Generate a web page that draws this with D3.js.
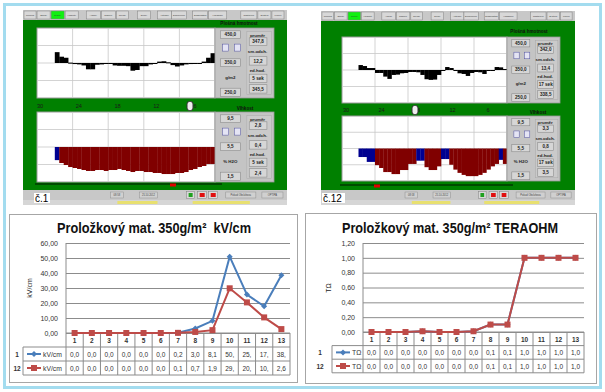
<!DOCTYPE html>
<html>
<head>
<meta charset="utf-8">
<script src="https://cdn.jsdelivr.net/npm/d3@7/dist/d3.min.js"></script>
<style>
    body { margin: 0; background: #fff; }
    svg { display: block; }
</style>
</head>
<body>
<svg id="chart" width="605" height="392"></svg>
<script>
// ---- data: lower excel charts ----
const categories = [1, 2, 3, 4, 5, 6, 7, 8, 9, 10, 11, 12, 13];
const runNames = ["1", "12"];
const kvRun1 = [0, 0, 0, 0, 0, 0, 0.2, 3.0, 8.1, 50.9, 25.6, 17.8, 38.5];
const kvRun12 = [0, 0, 0, 0, 0, 0, 0.1, 0.7, 1.9, 29.8, 20.4, 10.4, 2.6];
const kvTicks = [0, 10, 20, 30, 40, 50, 60];
const toRun1 = [0, 0, 0, 0.01, 0, 0, 0.01, 0.1, 0.1, 1, 1, 1, 1];
const toRun12 = [0, 0, 0, 0.01, 0, 0, 0.01, 0.1, 0.1, 1, 1, 1, 1];
const toTicks = [0, 0.2, 0.4, 0.6, 0.8, 1.0, 1.2];

// ---- data: machine screenshots (40 cross-direction zones) ----
const weight1 = [null, null, null, null, 381, 368, 365, 351, 347, 346, 343, 332, 332, 345, 346, 348, 350, 343, 342, 342,
    341, 328, 330, 341, 341, 346, 349, 354, 355, 352, 344, 340, 343, 346, 347, 348, 350, 354, 365, 378];
const moisture1 = [null, null, null, null, 4.0, 3.67, 3.44, 3.21, 3.1, 2.99, 2.87, 2.76, 2.76, 2.87, 2.87, 2.76, 2.87, 2.87, 2.99, 2.87,
    2.76, 2.64, 2.76, 2.76, 2.64, 2.64, 2.53, 2.53, 2.41, 2.41, 2.41, 2.53, 2.53, 2.64, 2.87, 2.99, 3.21, 3.33, 3.56, 3.56];
const weight2 = [null, null, null, null, 365, 362, 356, 356, 341, 341, 330, 323, 335, 336, 340, 341, 344, 344, 343, 335,
    322, 320, 321, 335, 347, 359, 356, 348, 340, 338, 332, 341, 344, 343, 338, 348, 350, 359, 358, 353];
const moisture2 = [null, null, null, null, 4.45, 4.45, 3.85, 3.85, 3.45, 3.1, 2.6, 2.6, 2.35, 2.35, 2.85, 2.85, 3.6, 3.6, 4.0, 4.0,
    3.2, 2.85, 2.85, 3.3, 4.2, 4.2, 3.5, 2.9, 2.5, 2.25, 2.1, 2.1, 2.1, 2.25, 2.5, 2.9, 3.3, 3.6, 4.1, 3.6];
const scaleLabels = [30, 24, 18, 12, 6];
const menuLabels = ["Přehled", "Sondy", "Příčný profil", "Hodnoty profil", "Alarmy", "Časové sekvence", "Trendy", "Druhy",
    "Aktuální role", "Dokončené role", "Diagnostika", "Hardware", "Nastavení", "Systém", "Konec"];
const weightAxis = ["450,0", "350,0", "g/m2", "250,0"];
const moistAxis = ["9,5", "5,5", "% H2O", "1,5"];
const statNames = ["průměr", "sm.odch.", "ed.hod."];
const weightStats1 = ["347,8", "12,2", "5 sek", "345,5"];
const moistStats1 = ["2,8", "0,4", "5 sek", "2,4"];
const weightStats2 = ["342,0", "13,4", "17 sek", "338,5"];
const moistStats2 = ["3,3", "0,8", "17 sek", "3,5"];

const svg = d3.select("#chart");
const FONT = "Liberation Sans, Arial, sans-serif";

// menu button edges measured on the first screenshot, re-scaled for the second one
const menuEdges = [[25, 37], [38, 51], [52, 65], [66, 79], [87, 101], [102, 116], [117, 129], [138, 151],
    [158, 172], [172, 187], [193, 208], [209, 227], [241, 257], [258, 271], [272, 284]];

const drawPanel = (g, x0, x1, y0, y1, axisTexts, stats) => {
    const w = x1 - x0, h = y1 - y0;
    const px = (f) => x0 + f * w;
    const py = (f) => y0 + f * h;
    g.append("rect").attr("x", x0).attr("y", y0).attr("width", w).attr("height", h)
        .attr("fill", "#c4c4c4").attr("stroke", "#9a9a9a").attr("stroke-width", 0.8);
    g.append("rect").attr("x", px(0.54)).attr("y", py(0.05)).attr("width", w * 0.42).attr("height", h * 0.9)
        .attr("fill", "#cacaca").attr("stroke", "#a8a8a8").attr("stroke-width", 0.5);

    const box = (fx0, fx1, fy0, fy1, label) => {
        g.append("rect").attr("x", px(fx0)).attr("y", py(fy0)).attr("width", px(fx1) - px(fx0)).attr("height", py(fy1) - py(fy0))
            .attr("fill", "#d6d6d6").attr("stroke", "#8c8c8c").attr("stroke-width", 0.6);
        g.append("text").attr("x", (px(fx0) + px(fx1)) / 2).attr("y", (py(fy0) + py(fy1)) / 2 + 1.6)
            .attr("text-anchor", "middle").attr("font-family", FONT).attr("font-weight", "bold")
            .attr("font-size", 4.6).attr("fill", "#222").text(label);
    };
    const label = (fx, fy, t) => g.append("text").attr("x", px(fx)).attr("y", py(fy) + 1.5)
        .attr("text-anchor", "middle").attr("font-family", FONT).attr("font-weight", "bold")
        .attr("font-size", 4.4).attr("fill", "#222").text(t);

    box(0.09, 0.43, 0.04, 0.15, axisTexts[0]);
    box(0.09, 0.43, 0.44, 0.55, axisTexts[1]);
    label(0.26, 0.70, axisTexts[2]);
    box(0.09, 0.43, 0.86, 0.98, axisTexts[3]);
    [0.13, 0.33].forEach((f) => {
        g.append("rect").attr("x", px(f)).attr("y", py(0.23)).attr("width", w * 0.1).attr("height", h * 0.1)
            .attr("fill", "#e4e4f4").attr("stroke", "#5050a0").attr("stroke-width", 0.5);
    });

    label(0.72, 0.10, statNames[0]);
    box(0.58, 0.88, 0.14, 0.25, stats[0]);
    label(0.72, 0.34, statNames[1]);
    box(0.58, 0.88, 0.41, 0.53, stats[1]);
    label(0.72, 0.60, statNames[2]);
    box(0.58, 0.88, 0.66, 0.78, stats[2]);
    box(0.58, 0.88, 0.81, 0.93, stats[3]);
};

const drawScreen = (L) => {
    const g = svg.append("g");

    // toolbar
    g.append("rect").attr("x", L.left).attr("y", L.top).attr("width", L.right - L.left).attr("height", 10).attr("fill", "#c8c8c8");
    const bx = d3.scaleLinear().domain([24, 287]).range([L.left, L.right]);
    menuEdges.forEach(([a, b], i) => {
        g.append("rect").attr("x", bx(a)).attr("y", L.top + 1).attr("width", bx(b) - bx(a)).attr("height", 8)
            .attr("fill", i == 2 ? "#10f010" : "#d8d8d8").attr("stroke", "#808080").attr("stroke-width", 0.5);
        g.append("text").attr("x", (bx(a) + bx(b)) / 2).attr("y", L.top + 5.8).attr("text-anchor", "middle")
            .attr("font-family", FONT).attr("font-size", 2.4).attr("fill", "#333")
            .text(menuLabels[i].split(" ")[0]);
    });

    // green background
    g.append("rect").attr("x", L.left).attr("y", L.top + 10).attr("width", L.right - L.left)
        .attr("height", L.greenB - L.top - 10).attr("fill", "#008000");

    const x = d3.scaleLinear().domain([0, 40]).range([L.plotL, L.plotR]);

    const plotFrame = (y0, y1) => {
        g.append("rect").attr("x", L.plotL).attr("y", y0).attr("width", L.plotR - L.plotL).attr("height", y1 - y0)
            .attr("fill", "#fff").attr("stroke", "#9a9a9a").attr("stroke-width", 1);
        const gx = d3.scaleLinear().domain([0, 5]).range([L.plotL, L.plotR]);
        const gy = d3.scaleLinear().domain([0, 4]).range([y0, y1]);
        d3.range(1, 5).forEach((i) => {
            g.append("line").attr("x1", gx(i)).attr("x2", gx(i)).attr("y1", y0).attr("y2", y1).attr("stroke", "#c8c8c8").attr("stroke-width", 0.8);
        });
        d3.range(1, 4).forEach((i) => {
            g.append("line").attr("x1", L.plotL).attr("x2", L.plotR).attr("y1", gy(i)).attr("y2", gy(i)).attr("stroke", "#c8c8c8").attr("stroke-width", 0.8);
        });
    };

    // upper plot: basis weight
    plotFrame(L.upT, L.upB);
    const yW = d3.scaleLinear().domain([250, 450]).range([L.upB, L.upT]);
    g.selectAll(null).data(L.weight.map((v, i) => ({ v, i })).filter((d) => d.v != null)).enter().append("rect")
        .attr("x", (d) => x(d.i)).attr("width", (d) => x(d.i + 1) - x(d.i) + 0.3)
        .attr("y", (d) => Math.min(yW(d.v), yW(350)))
        .attr("height", (d) => Math.max(1, Math.abs(yW(d.v) - yW(350))))
        .attr("fill", "#000");
    drawPanel(g, L.plotR, L.panelR, L.upT, L.upB, weightAxis, L.weightStats);
    g.append("text").attr("x", L.title1X).attr("y", L.title1Y).attr("text-anchor", "middle").attr("font-family", FONT)
        .attr("font-weight", "bold").attr("font-size", 4.6).attr("fill", "#111").text("Plošná hmotnost");

    // position labels
    const sx = d3.scaleLinear().domain([30, 6]).range(L.scaleRange);
    scaleLabels.forEach((s) => {
        g.append("text").attr("x", sx(s)).attr("y", L.labelY).attr("text-anchor", "middle").attr("font-family", FONT)
            .attr("font-size", 5.6).attr("fill", "#1a1a1a").text(s);
    });
    g.append("rect").attr("x", L.thumbX - 3).attr("y", L.labelY - 6).attr("width", 6).attr("height", 9).attr("rx", 2.5)
        .attr("fill", "#eee").attr("stroke", "#333").attr("stroke-width", 1);
    g.append("text").attr("x", L.title2X).attr("y", L.labelY + 2).attr("text-anchor", "middle").attr("font-family", FONT)
        .attr("font-weight", "bold").attr("font-size", 4.6).attr("fill", "#111").text("Vlhkost");

    // lower plot: moisture
    plotFrame(L.loT, L.loB);
    const yM = d3.scaleLinear().domain([1.5, 9.5]).range([L.loB, L.loT]);
    g.selectAll(null).data(L.moisture.map((v, i) => ({ v, i })).filter((d) => d.v != null)).enter().append("rect")
        .attr("x", (d) => x(d.i)).attr("width", (d) => x(d.i + 1) - x(d.i) + 0.3)
        .attr("y", (d) => Math.min(yM(d.v), yM(5.5)))
        .attr("height", (d) => Math.abs(yM(d.v) - yM(5.5)))
        .attr("fill", (d) => (d.v >= 3.8 ? "#000090" : "#800000"));
    drawPanel(g, L.plotR, L.panelR, L.loT, L.loB, moistAxis, L.moistStats);

    // slider
    g.append("line").attr("x1", L.plotL - 2).attr("x2", L.sliderR).attr("y1", L.sliderY).attr("y2", L.sliderY)
        .attr("stroke", "#003a00").attr("stroke-width", 1.6);
    g.append("rect").attr("x", L.markerX - 3).attr("y", L.sliderY - 0.5).attr("width", 6).attr("height", 3).attr("fill", "#e00000");

    // status bar
    g.append("rect").attr("x", L.left).attr("y", L.greenB).attr("width", L.right - L.left).attr("height", 10).attr("fill", "#c8c8c8");
    g.append("rect").attr("x", L.left).attr("y", L.greenB + 10).attr("width", L.right - L.left).attr("height", 5).attr("fill", "#d6d6d6");
    const st = d3.scaleLinear().domain([24, 287]).range([L.left, L.right]);
    [[111, 124, "08:58"], [140, 158, "25.10.2012"], [226, 256, "Pokud Obsluhova"], [262, 283, "OPTIPA"]].forEach(([a, b, t]) => {
        g.append("rect").attr("x", st(a)).attr("y", L.greenB + 2).attr("width", st(b) - st(a)).attr("height", 6)
            .attr("fill", "#d0d0d0").attr("stroke", "#909090").attr("stroke-width", 0.5);
        g.append("text").attr("x", (st(a) + st(b)) / 2).attr("y", L.greenB + 6).attr("text-anchor", "middle")
            .attr("font-family", FONT).attr("font-size", 2.6).attr("fill", "#444").text(t);
    });
    [[187, 195, "#20a020"], [198, 207, "#e01010"], [209, 218, "#e01010"]].forEach(([a, b, c]) => {
        g.append("rect").attr("x", st(a)).attr("y", L.greenB + 1.5).attr("width", st(b) - st(a)).attr("height", 7)
            .attr("fill", "#d8d8d8").attr("stroke", "#808080").attr("stroke-width", 0.5);
        g.append("rect").attr("x", st(a) + 2).attr("y", L.greenB + 3).attr("width", st(b) - st(a) - 4).attr("height", 4).attr("fill", c);
    });
    [[118, 158], [193, 250]].forEach(([a, b]) => {
        g.append("rect").attr("x", st(a)).attr("y", L.greenB + 11).attr("width", st(b) - st(a)).attr("height", 3).attr("fill", "#e8e070");
    });

    // screenshot tag
    g.append("rect").attr("x", L.tagX).attr("y", L.greenB + 3).attr("width", L.tagW).attr("height", 10).attr("fill", "#fff");
    g.append("text").attr("x", L.tagX + 1).attr("y", L.greenB + 11.5).attr("font-family", FONT).attr("font-size", 10)
        .attr("fill", "#000").text(L.tag);
};

drawScreen({
    left: 23, right: 287, top: 10, greenB: 190,
    plotL: 37, plotR: 215, panelR: 274, upT: 28, upB: 98, loT: 112, loB: 182,
    labelY: 107.5, scaleRange: [40, 195], thumbX: 190, title1X: 239, title1Y: 25, title2X: 245,
    sliderY: 184, sliderR: 222, markerX: 173,
    weight: weight1, moisture: moisture1, weightStats: weightStats1, moistStats: moistStats1,
    tag: "č.1", tagX: 34, tagW: 16
});
drawScreen({
    left: 321, right: 575, top: 11, greenB: 190,
    plotL: 342, plotR: 507, panelR: 560, upT: 37, upB: 103, loT: 116, loB: 181,
    labelY: 111.5, scaleRange: [346, 488], thumbX: 415, title1X: 529, title1Y: 33, title2X: 538,
    sliderY: 185, sliderR: 513, markerX: 377,
    weight: weight2, moisture: moisture2, weightStats: weightStats2, moistStats: moistStats2,
    tag: "č.12", tagX: 322, tagW: 23
});

// ---- excel style line charts ----
const numFmt = (v, f) => d3.format(f)(v).replace(".", ",");

const lineChart = (c) => {
    const g = svg.append("g");
    g.append("rect").attr("x", c.box[0] + 0.5).attr("y", c.box[1] + 0.5).attr("width", c.box[2] - c.box[0]).attr("height", c.box[3] - c.box[1])
        .attr("fill", "#fff").attr("stroke", "#a6a6a6").attr("stroke-width", 1);

    g.append("text").attr("x", c.titleX).attr("y", 233).attr("text-anchor", "middle").attr("font-family", FONT)
        .attr("font-weight", "bold").attr("font-size", 14.5).attr("fill", "#111")
        .attr("textLength", c.titleLen).attr("lengthAdjust", "spacingAndGlyphs").text(c.title);

    const x = d3.scaleBand().domain(categories).range([c.l, c.r]);
    const y = d3.scaleLinear().domain([0, c.ticks[c.ticks.length - 1]]).range([c.b, c.t]);

    const yAxis = g.append("g").attr("transform", `translate(${c.l},0)`)
        .call(d3.axisLeft(y).tickValues(c.ticks).tickSize(-(c.r - c.l)).tickPadding(8).tickFormat((d) => numFmt(d, ".2f")));
    yAxis.select(".domain").remove();
    yAxis.selectAll("line").attr("stroke", "#8c8c8c").attr("stroke-width", 1);
    yAxis.selectAll("text").attr("font-family", FONT).attr("font-size", 7).attr("fill", "#333");

    g.append("text").attr("transform", `translate(${c.axisTitleX},288) rotate(-90)`).attr("text-anchor", "middle")
        .attr("font-family", FONT).attr("font-size", 7).attr("fill", "#222").text(c.unit);

    // data table
    const rows = [c.b, c.b + c.rowH, c.b + 2 * c.rowH, c.b + 3 * c.rowH];
    const tg = g.append("g").attr("stroke", "#8c8c8c").attr("stroke-width", 1);
    tg.append("line").attr("x1", c.l).attr("x2", c.r).attr("y1", rows[0]).attr("y2", rows[0]);
    rows.slice(1).forEach((ry) => tg.append("line").attr("x1", c.tableL).attr("x2", c.r).attr("y1", ry).attr("y2", ry));
    tg.append("line").attr("x1", c.tableL).attr("x2", c.tableL).attr("y1", rows[1]).attr("y2", rows[3]);
    [...categories.map((d) => x(d)), c.r].forEach((vx) => {
        tg.append("line").attr("x1", vx).attr("x2", vx).attr("y1", vx == c.l ? c.t : rows[0]).attr("y2", rows[3]);
    });

    categories.forEach((d) => {
        g.append("text").attr("x", x(d) + x.bandwidth() / 2).attr("y", rows[0] + 9.5).attr("text-anchor", "middle")
            .attr("font-family", FONT).attr("font-weight", "bold").attr("font-size", 6.5).attr("fill", "#333").text(d);
    });

    const marker = (sel, s, cx, cy) => {
        if (s.shape == "square") {
            sel.append("rect").attr("x", cx - 3).attr("y", cy - 3).attr("width", 6).attr("height", 6).attr("fill", s.color);
        } else {
            sel.append("path").attr("d", `M${cx},${cy - 3}L${cx + 3},${cy}L${cx},${cy + 3}L${cx - 3},${cy}Z`).attr("fill", s.color);
        }
    };

    const line = d3.line().x((d, i) => x(categories[i]) + x.bandwidth() / 2).y((d) => y(d));
    c.series.forEach((s, k) => {
        g.append("path").datum(s.values).attr("d", line).attr("fill", "none").attr("stroke", s.color).attr("stroke-width", 2);
        s.values.forEach((v, i) => marker(g, s, x(categories[i]) + x.bandwidth() / 2, y(v)));

        const cy = rows[k + 1] + c.rowH / 2;
        g.append("text").attr("x", c.rowLabelX).attr("y", cy + 2.5).attr("text-anchor", "middle").attr("font-family", FONT)
            .attr("font-weight", "bold").attr("font-size", 6.5).attr("fill", "#333").text(runNames[k]);
        g.append("line").attr("x1", c.tableL + 4).attr("x2", c.tableL + 18).attr("y1", cy).attr("y2", cy)
            .attr("stroke", s.color).attr("stroke-width", 2);
        marker(g, s, c.tableL + 11, cy);
        g.append("text").attr("x", c.tableL + 20).attr("y", cy + 2.5).attr("font-family", FONT)
            .attr("font-size", 6.8).attr("fill", "#333").text(c.unit);
        s.values.forEach((v, i) => {
            g.append("text").attr("x", x(categories[i]) + x.bandwidth() / 2).attr("y", cy + 2.5).attr("text-anchor", "middle")
                .attr("font-family", FONT).attr("font-size", 6.5).attr("fill", "#333").text(numFmt(v, ".1f").slice(0, 3));
        });
    });
};

lineChart({
    box: [9, 214, 297, 382], title: "Proložkový mat. 350g/m²\u00a0\u00a0kV/cm", titleX: 154, titleLen: 194,
    l: 66, r: 290, t: 243, b: 333, rowH: 14, tableL: 23, rowLabelX: 17, axisTitleX: 32, unit: "kV/cm",
    ticks: kvTicks,
    series: [{ values: kvRun1, color: "#4a7ebb", shape: "diamond" }, { values: kvRun12, color: "#be4b48", shape: "square" }]
});
lineChart({
    box: [305, 213, 596, 383], title: "Proložkový mat. 350g/m² TERAOHM", titleX: 450, titleLen: 216,
    l: 363, r: 584, t: 243, b: 332, rowH: 13.6, tableL: 332, rowLabelX: 320, axisTitleX: 331, unit: "TΩ",
    ticks: toTicks,
    series: [{ values: toRun1, color: "#4a7ebb", shape: "diamond" }, { values: toRun12, color: "#be4b48", shape: "square" }]
});

// outer frame
svg.append("rect").attr("x", 4.5).attr("y", 4.5).attr("width", 596).attr("height", 383)
    .attr("fill", "none").attr("stroke", "#a3dcef").attr("stroke-width", 3);
</script>
</body>
</html>
